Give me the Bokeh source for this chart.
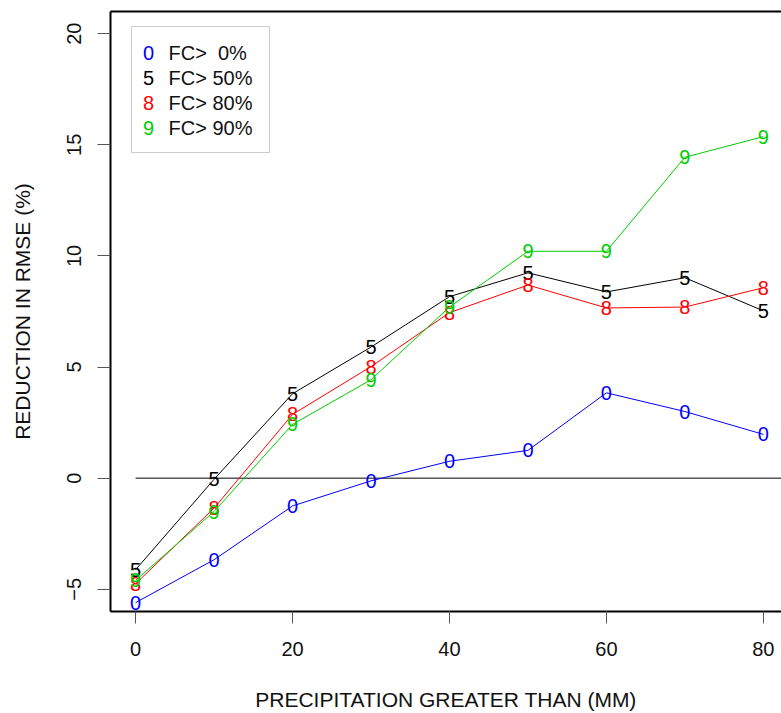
from bokeh.plotting import figure
from bokeh.models import Range1d, FixedTicker, LinearAxis, Label, BoxAnnotation
from bokeh.core.properties import value
from bokeh.embed import file_html
from bokeh.resources import INLINE

# ---- data ----
precip = [0, 10, 20, 30, 40, 50, 60, 70, 80]
fc0 = [-5.6, -3.67, -1.25, -0.12, 0.76, 1.25, 3.84, 3.0, 1.97]
fc50 = [-4.12, -0.05, 3.8, 5.9, 8.17, 9.24, 8.38, 9.02, 7.53]
fc80 = [-4.75, -1.35, 2.87, 5.02, 7.45, 8.69, 7.66, 7.7, 8.57]
fc90 = [-4.6, -1.5, 2.42, 4.43, 7.7, 10.21, 10.21, 14.44, 15.37]

series_values = [fc0, fc50, fc80, fc90]
series_symbols = ["0", "5", "8", "9"]
series_labels = ["FC>\u00a0\u00a00%", "FC> 50%", "FC> 80%", "FC> 90%"]
series_colors = ["#0000FF", "#000000", "#FF0000", "#00CD00"]

x_ticks = [0, 20, 40, 60, 80]
y_ticks = [-5, 0, 5, 10, 15, 20]
ref_x = [0, 90]
ref_y = [0, 0]

FONT = "Liberation Sans"
FS = "20px"
LFS = "21px"

p = figure(width=781, height=713, output_backend="svg", toolbar_location=None,
           x_range=Range1d(-3.2, 82.31), y_range=Range1d(-6, 21),
           min_border_left=110, min_border_right=0, min_border_top=11, min_border_bottom=101,
           x_axis_label="PRECIPITATION GREATER THAN (MM)",
           y_axis_label="REDUCTION IN RMSE (%)")
p.outline_line_color = None
p.grid.visible = False
p.background_fill_color = "white"
p.border_fill_color = "white"

for ax in (p.xaxis[0], p.yaxis[0]):
    ax.axis_line_color = "black"
    ax.axis_line_width = 2
    ax.major_tick_in = 0
    ax.major_tick_line_color = "#555555"
    ax.major_tick_line_width = 1
    ax.minor_tick_line_color = None
    ax.major_label_text_font = FONT
    ax.major_label_text_font_size = FS
    ax.major_label_text_color = "#111111"
    ax.axis_label_text_font = FONT
    ax.axis_label_text_font_size = LFS
    ax.axis_label_text_font_style = "normal"
    ax.axis_label_text_color = "#111111"

p.xaxis[0].ticker = FixedTicker(ticks=x_ticks)
p.xaxis[0].major_tick_out = 12
p.xaxis[0].major_label_standoff = 18
p.xaxis[0].axis_label_standoff = 29

p.yaxis[0].ticker = FixedTicker(ticks=y_ticks)
p.yaxis[0].major_tick_out = 13
p.yaxis[0].major_label_orientation = "vertical"
p.yaxis[0].major_label_standoff = 16
p.yaxis[0].axis_label_standoff = 31

top_axis = LinearAxis(ticker=FixedTicker(ticks=[]), axis_line_color="black", axis_line_width=2,
                      major_tick_out=0, major_tick_in=0, minor_tick_line_color=None,
                      major_label_text_font_size="0px")
p.add_layout(top_axis, "above")

# zero reference line
p.line(ref_x, ref_y, line_color="black", line_width=1)

for vals, sym, col in zip(series_values, series_symbols, series_colors):
    p.line(precip, vals, line_color=col, line_width=1)
    p.text(precip, vals, text=[sym] * len(precip), text_color=col,
           text_align="center", text_baseline="middle",
           text_font=value(FONT), text_font_size=value(FS))

# legend (screen units relative to frame bottom-left)
p.add_layout(BoxAnnotation(left=21, right=159, top=585, bottom=459,
                           left_units="screen", right_units="screen",
                           top_units="screen", bottom_units="screen",
                           fill_color=None, line_color="#555555", line_width=1))
row_y = [558.5, 533.5, 508.5, 483.5]
for ry, sym, lab, col in zip(row_y, series_symbols, series_labels, series_colors):
    p.add_layout(Label(x=38, y=ry, x_units="screen", y_units="screen", text=sym,
                       text_color=col, text_align="center", text_baseline="middle",
                       text_font=FONT, text_font_size=FS))
    p.add_layout(Label(x=58, y=ry, x_units="screen", y_units="screen", text=lab,
                       text_color="#111111", text_align="left", text_baseline="middle",
                       text_font=FONT, text_font_size=FS))

open("out.html", "w").write(file_html(p, INLINE))
